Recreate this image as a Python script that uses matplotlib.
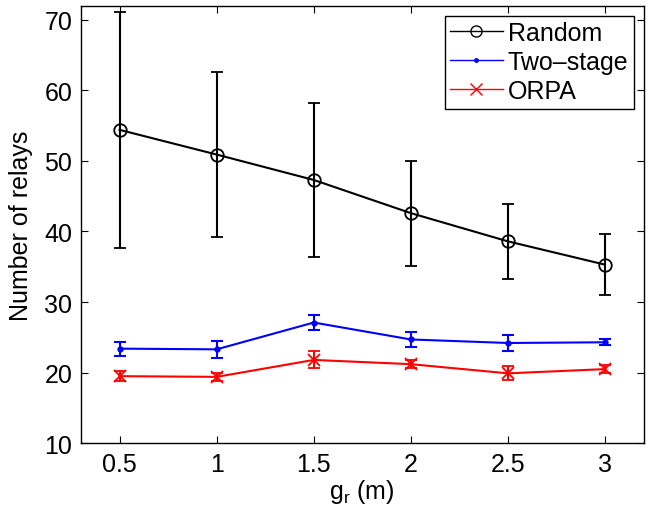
import matplotlib
matplotlib.use("Agg")
import matplotlib.pyplot as plt
from matplotlib.lines import Line2D

plt.rcParams['font.family'] = ['Liberation Sans', 'DejaVu Sans']
plt.rcParams['mathtext.fontset'] = 'custom'
plt.rcParams['mathtext.rm'] = 'Liberation Sans'
plt.rcParams['mathtext.it'] = 'Liberation Sans'

gr = [0.5, 1.0, 1.5, 2.0, 2.5, 3.0]
random_mean = [54.4, 50.9, 47.3, 42.6, 38.6, 35.3]
random_err = [16.75, 11.75, 10.85, 7.45, 5.35, 4.35]
two_stage_mean = [23.4, 23.3, 27.1, 24.7, 24.2, 24.3]
two_stage_err = [1.0, 1.2, 1.1, 1.0, 1.2, 0.4]
orpa_mean = [19.5, 19.4, 21.8, 21.2, 19.9, 20.5]
orpa_err = [0.7, 0.6, 1.2, 0.6, 1.0, 0.6]
xticks = [0.5, 1, 1.5, 2, 2.5, 3]
xticklabels = ['0.5', '1', '1.5', '2', '2.5', '3']
yticks = [10, 20, 30, 40, 50, 60, 70]

fig = plt.figure(figsize=(6.51, 5.10), dpi=100)
ax = fig.add_axes([0.124, 0.129, 0.865, 0.858])

lw = 1.5
ax.errorbar(gr, random_mean, yerr=random_err, color='black', lw=lw, elinewidth=lw,
            capsize=4.5, capthick=lw, marker='o', markersize=9, mfc='none', mew=1.3)
ax.errorbar(gr, two_stage_mean, yerr=two_stage_err, color='blue', lw=lw, elinewidth=lw,
            capsize=4.5, capthick=lw, marker='.', markersize=7)
ax.errorbar(gr, orpa_mean, yerr=orpa_err, color='red', lw=lw, elinewidth=lw,
            capsize=4.5, capthick=lw, marker='x', markersize=8, mew=1.3)

ax.set_xlim(0.3, 3.2)
ax.set_ylim(10, 72)
ax.set_xticks(xticks)
ax.set_xticklabels(xticklabels)
ax.set_yticks(yticks)
ax.tick_params(direction='in', top=True, right=True, length=5, width=0.8, labelsize=18, pad=6)
for s in ax.spines.values():
    s.set_linewidth(1.0)

ax.set_xlabel(r'g$_\mathregular{r}$ (m)', fontsize=18, labelpad=1)
ax.set_ylabel('Number of relays', fontsize=18, labelpad=8)

handles = [
    Line2D([], [], color='black', lw=1.0, marker='o', markersize=8, mfc='none', mew=1.0),
    Line2D([], [], color='blue', lw=1.0, marker='.', markersize=5),
    Line2D([], [], color='red', lw=1.0, marker='x', markersize=8, mew=1.0),
]
leg = ax.legend(handles, ['Random', 'Two\u2013stage', 'ORPA'], loc='upper right',
                fontsize=18, fancybox=False, framealpha=1, edgecolor='black',
                handlelength=2.1, handletextpad=0.2, borderpad=0.22, labelspacing=0.2,
                borderaxespad=0.4)
leg.get_frame().set_linewidth(1.0)

fig.savefig('out.png', dpi=100)
